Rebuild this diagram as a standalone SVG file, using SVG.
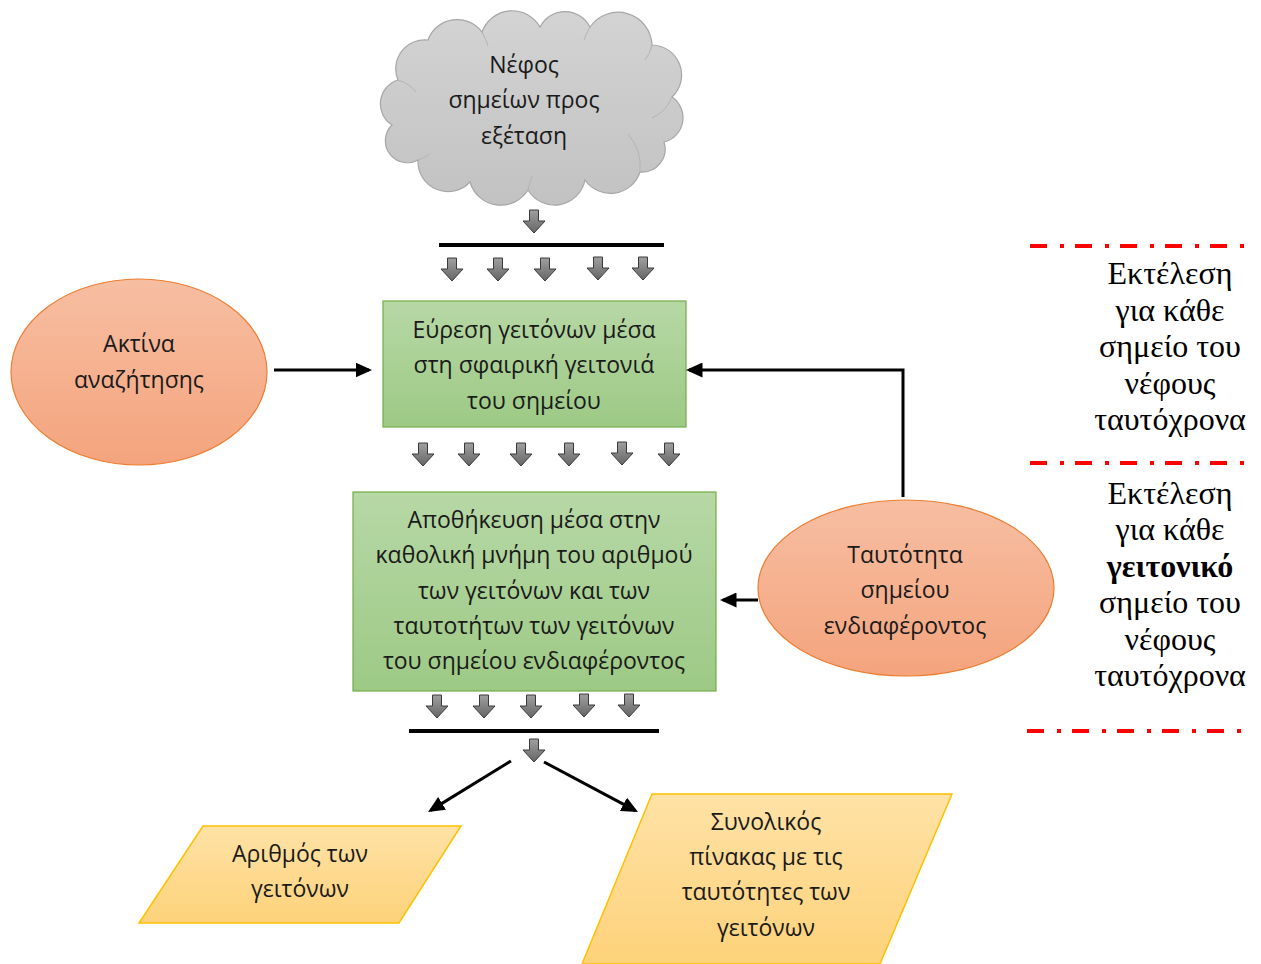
<svg xmlns="http://www.w3.org/2000/svg" width="1261" height="964" viewBox="0 0 1261 964">
  <defs>
    <linearGradient id="gGreen" x1="0" y1="0" x2="0" y2="1">
      <stop offset="0" stop-color="#b7d8a6"/>
      <stop offset="1" stop-color="#9dc985"/>
    </linearGradient>
    <linearGradient id="gOrange" x1="0" y1="0" x2="0" y2="1">
      <stop offset="0" stop-color="#f7bea2"/>
      <stop offset="1" stop-color="#f4a47d"/>
    </linearGradient>
    <linearGradient id="gYellow" x1="0" y1="0" x2="0" y2="1">
      <stop offset="0" stop-color="#ffe2a6"/>
      <stop offset="1" stop-color="#fdd27a"/>
    </linearGradient>
    <linearGradient id="gCloud" x1="0" y1="0" x2="0" y2="1">
      <stop offset="0" stop-color="#d3d3d3"/>
      <stop offset="1" stop-color="#c2c2c2"/>
    </linearGradient>
    <linearGradient id="gGray" x1="0" y1="0" x2="0" y2="1">
      <stop offset="0" stop-color="#a0a0a0"/>
      <stop offset="1" stop-color="#656565"/>
    </linearGradient>
    <marker id="head" markerWidth="5.5" markerHeight="5" refX="4.5" refY="2.5" orient="auto" markerUnits="strokeWidth">
      <path d="M0,0 L5.5,2.5 L0,5 Z" fill="#000"/>
    </marker>
    <!-- small block arrow pointing down, origin at top centre -->
    <path id="blk" d="M-4.5,0 H4.5 V11 H11 L0,23 L-11,11 H-4.5 Z"/>
  </defs>
  <style>
    .sans { font-family: "Open Sans", "Noto Sans", "DejaVu Sans", sans-serif; font-size: 23px; fill: #1a1a1a; text-anchor: middle; }
    .serif { font-family: "Liberation Serif", "DejaVu Serif", serif; font-size: 32px; fill: #000; text-anchor: middle; }
    .box { fill: url(#gGreen); stroke: #70ad47; stroke-width: 1.2; }
    .ell { fill: url(#gOrange); stroke: #ed7d31; stroke-width: 1.2; }
    .para { fill: url(#gYellow); stroke: #ffc000; stroke-width: 1.5; }
    .blk { fill: url(#gGray); stroke: #3a3a3a; stroke-width: 1; }
    .conn { fill: none; stroke: #000; stroke-width: 3; }
    .bar { stroke: #000; stroke-width: 4; }
    .redline { stroke: #ff0000; stroke-width: 4; stroke-dasharray: 17 13 4 11; }
  </style>

  <!-- point cloud input -->
  <g id="cloud">
    <path d="M392,125 A25,25 0 0 1 398,80 A29,29 0 0 1 428,40 A31,31 0 0 1 482,32 A32,32 0 0 1 540,27 A28,28 0 0 1 590,27 A34,34 0 0 1 652,45 A30,30 0 0 1 672,97 A25,25 0 0 1 664,142 A23,23 0 0 1 640,172 A31,31 0 0 1 585,180 A31,31 0 0 1 528,190 A32,32 0 0 1 470,182 A30,30 0 0 1 418,160 A22,22 0 0 1 392,125 Z" fill="url(#gCloud)" stroke="#a6a6a6" stroke-width="1.2"/>
    <g fill="none" stroke="#b4b4b4" stroke-width="1">
      <path d="M398,80 Q410,84 416,92"/>
      <path d="M482,32 Q486,40 488,46"/>
      <path d="M590,27 Q586,34 584,40"/>
      <path d="M652,45 Q650,54 645,60"/>
      <path d="M672,97 Q666,112 652,118"/>
      <path d="M640,172 Q642,150 628,134"/>
      <path d="M528,190 Q530,182 532,176"/>
      <path d="M418,160 Q424,158 430,154"/>
    </g>
    <text class="sans" x="524" y="73">Νέφος</text>
    <text class="sans" x="524" y="108">σημείων προς</text>
    <text class="sans" x="524" y="144">εξέταση</text>
  </g>

  <!-- search radius input -->
  <g id="radius">
    <ellipse class="ell" cx="139" cy="372" rx="128" ry="93"/>
    <text class="sans" x="139" y="352">Ακτίνα</text>
    <text class="sans" x="139" y="388">αναζήτησης</text>
  </g>

  <!-- neighbour search step -->
  <g id="search">
    <rect class="box" x="383" y="301" width="303" height="126"/>
    <text class="sans" x="534" y="338">Εύρεση γειτόνων μέσα</text>
    <text class="sans" x="534" y="373">στη σφαιρική γειτονιά</text>
    <text class="sans" x="534" y="409">του σημείου</text>
  </g>

  <!-- storage step -->
  <g id="store">
    <rect class="box" x="353" y="492" width="363" height="199"/>
    <text class="sans" x="534" y="528">Αποθήκευση μέσα στην</text>
    <text class="sans" x="534" y="563">καθολική μνήμη του αριθμού</text>
    <text class="sans" x="534" y="599">των γειτόνων και των</text>
    <text class="sans" x="534" y="634">ταυτοτήτων των γειτόνων</text>
    <text class="sans" x="534" y="669">του σημείου ενδιαφέροντος</text>
  </g>

  <!-- point of interest id -->
  <g id="pointid">
    <ellipse class="ell" cx="906" cy="588" rx="148" ry="88"/>
    <text class="sans" x="905" y="563">Ταυτότητα</text>
    <text class="sans" x="905" y="598">σημείου</text>
    <text class="sans" x="905" y="634">ενδιαφέροντος</text>
  </g>

  <!-- outputs -->
  <g id="count">
    <polygon class="para" points="203,826 461,826 399,923 139,923"/>
    <text class="sans" x="300" y="862">Αριθμός των</text>
    <text class="sans" x="300" y="897">γειτόνων</text>
  </g>
  <g id="table">
    <polygon class="para" points="652,794 952,794 880,964 582,964"/>
    <text class="sans" x="766" y="830">Συνολικός</text>
    <text class="sans" x="766" y="865">πίνακας με τις</text>
    <text class="sans" x="766" y="900">ταυτότητες των</text>
    <text class="sans" x="766" y="936">γειτόνων</text>
  </g>

  <!-- parallel execution notes -->
  <g id="notes">
    <line class="redline" x1="1030" y1="246" x2="1248" y2="246"/>
    <line class="redline" x1="1030" y1="463" x2="1248" y2="463"/>
    <line class="redline" x1="1027" y1="731" x2="1245" y2="731"/>
    <text class="serif" x="1170" y="284">Εκτέλεση</text>
    <text class="serif" x="1170" y="320.5">για κάθε</text>
    <text class="serif" x="1170" y="357">σημείο του</text>
    <text class="serif" x="1170" y="393.5">νέφους</text>
    <text class="serif" x="1170" y="430">ταυτόχρονα</text>
    <text class="serif" x="1170" y="504">Εκτέλεση</text>
    <text class="serif" x="1170" y="540.4">για κάθε</text>
    <text class="serif" x="1170" y="576.8" font-weight="bold">γειτονικό</text>
    <text class="serif" x="1170" y="613.2">σημείο του</text>
    <text class="serif" x="1170" y="649.6">νέφους</text>
    <text class="serif" x="1170" y="686">ταυτόχρονα</text>
  </g>

  <!-- connectors -->
  <g id="connectors">
    <line class="bar" x1="439" y1="245" x2="664" y2="245"/>
    <line class="bar" x1="409" y1="731" x2="659" y2="731"/>
    <g class="blk">
      <use href="#blk" x="534" y="210"/>
      <use href="#blk" x="452" y="258"/>
      <use href="#blk" x="498" y="258"/>
      <use href="#blk" x="545" y="258"/>
      <use href="#blk" x="598" y="257"/>
      <use href="#blk" x="643" y="257"/>
      <use href="#blk" x="423" y="443"/>
      <use href="#blk" x="469" y="443"/>
      <use href="#blk" x="521" y="443"/>
      <use href="#blk" x="569" y="443"/>
      <use href="#blk" x="622" y="442"/>
      <use href="#blk" x="669" y="443"/>
      <use href="#blk" x="437" y="695"/>
      <use href="#blk" x="484" y="695"/>
      <use href="#blk" x="531" y="695"/>
      <use href="#blk" x="584" y="694"/>
      <use href="#blk" x="629" y="694"/>
      <use href="#blk" x="534" y="739"/>
    </g>
    <path class="conn" d="M274,370 H369" marker-end="url(#head)"/>
    <path class="conn" d="M903,497 V370 H689" marker-end="url(#head)"/>
    <path class="conn" d="M758,600 H723" marker-end="url(#head)"/>
    <path class="conn" d="M511,761 L430.6,810.4" marker-end="url(#head)"/>
    <path class="conn" d="M544,762 L635.4,810.6" marker-end="url(#head)"/>
  </g>
</svg>
